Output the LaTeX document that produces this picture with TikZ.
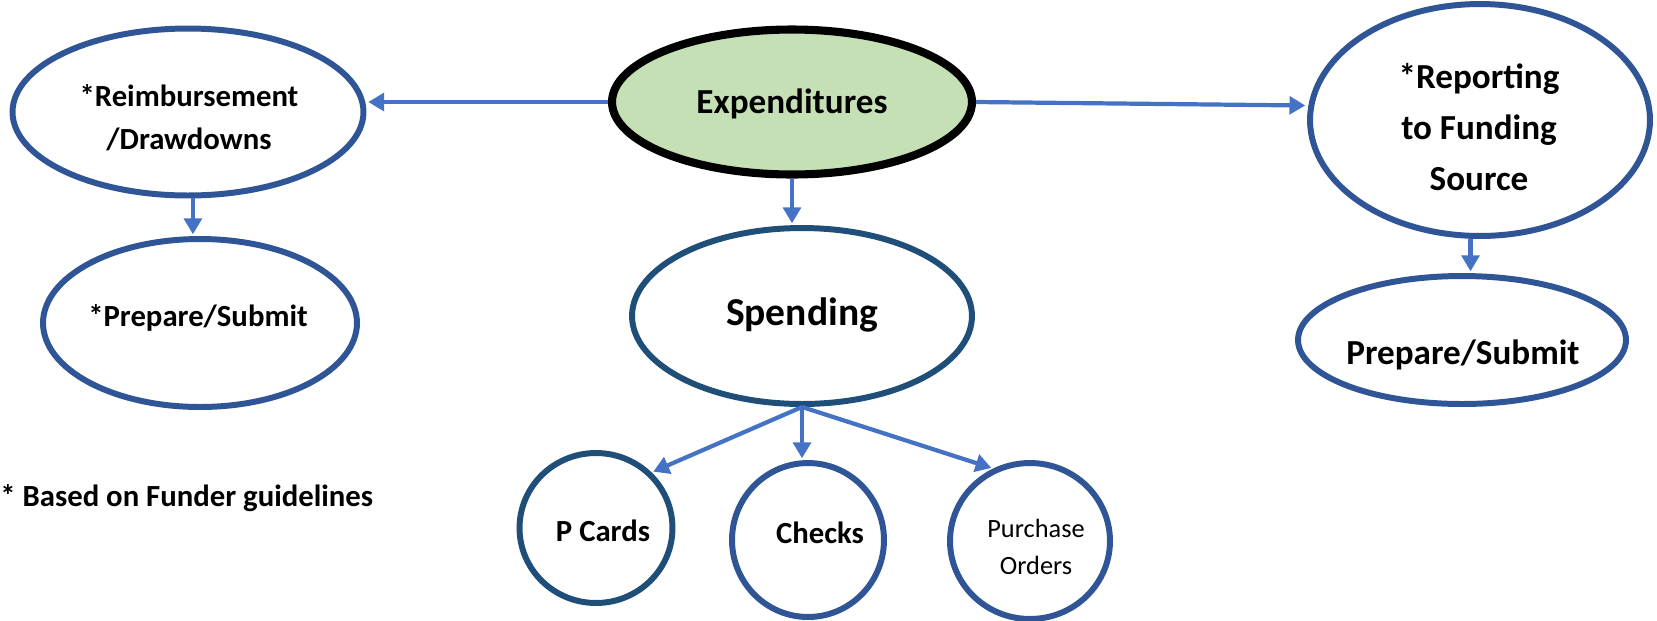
\documentclass[tikz,border=0pt]{standalone}
\usepackage{fontspec}
\setmainfont{Carlito}
\usetikzlibrary{arrows.meta,shapes.geometric}
\definecolor{bord}{RGB}{47,85,151}
\definecolor{bordd}{RGB}{31,78,121}
\definecolor{arrc}{RGB}{68,114,196}
\definecolor{expfill}{RGB}{197,224,180}
\tikzset{
  bub/.style={ellipse, draw=bord, line width=3.4pt, inner sep=0pt, fill=white},
  bubd/.style={bub, draw=bordd},
  expbub/.style={ellipse, draw=black, line width=4.6pt, inner sep=0pt, fill=expfill},
  txt/.style={font=\bfseries\fontsize{17.5}{24.5}\selectfont, align=center, inner sep=0pt},
  arr/.style={draw=arrc, line width=2.4pt, -{Triangle[length=9pt,width=10pt]}, shorten >=1pt}
}
\begin{document}
\begin{tikzpicture}[x=0.02cm, y=-0.02cm]
\useasboundingbox (0,0) rectangle (1657,620);
% ellipses
\node[bub, minimum width=7.02cm, minimum height=3.34cm] (reimb) at (188,112) {};
\node[bub, minimum width=6.28cm, minimum height=3.36cm] (prepL) at (200,323) {};
\node[expbub, minimum width=7.2cm, minimum height=2.9cm] (exp) at (792,102) {};
\node[bubd, minimum width=6.8cm, minimum height=3.52cm] (spend) at (802,316) {};
\node[bub, minimum width=6.8cm, minimum height=4.64cm] (rep) at (1480,120) {};
\node[bub, minimum width=6.56cm, minimum height=2.56cm] (prepR) at (1462,340) {};
\node[bubd, minimum width=3.06cm, minimum height=3.0cm] (pcards) at (596,528) {};
\node[bub, minimum width=3.04cm, minimum height=3.08cm] (checks) at (808,540) {};
\node[bub, minimum width=3.2cm, minimum height=3.12cm] (po) at (1030,541) {};
% texts
\node[txt] (treimb) at (189,118) {*Reimbursement\\/Drawdowns};
\node[txt] (tprepL) at (198,318) {*Prepare/Submit};
\node[txt, font=\bfseries\fontsize{20}{24}\selectfont] (texp) at (792,104) {Expenditures};
\node[txt, font=\bfseries\fontsize{22.5}{26}\selectfont] (tspend) at (802,315) {Spending};
\node[txt, font=\bfseries\fontsize{20}{28.8}\selectfont] (trep) at (1479,127) {*Reporting\\to Funding\\Source};
\node[txt, font=\bfseries\fontsize{20}{24}\selectfont] (tprepR) at (1463,355) {Prepare/Submit};
\node[txt] (tpcards) at (603,531) {P Cards};
\node[txt] (tchecks) at (820,533) {Checks};
\node[txt, font=\fontsize{15}{21}\selectfont] (tpo) at (1036,547) {Purchase\\Orders};
\node[txt, anchor=west] (foot) at (0,498) {* Based on Funder guidelines};
% connectors
\draw[arr] (exp.west) -- (exp.west -| reimb.east);
\draw[arr] (exp.east) -- ([yshift=-2pt]exp.east -| rep.west);
\draw[arr] (exp.south) -- (exp.south |- spend.north);
\draw[arr] ([xshift=2.8pt]reimb.south) -- ([xshift=2.8pt]reimb.south |- prepL.north);
\draw[arr] ([xshift=-5.4pt]rep.south) -- ([xshift=-5.4pt]rep.south |- prepR.north);
\draw[arr] (spend.south) -- (pcards.45);
\draw[arr] (spend.south) -- (spend.south |- checks.north);
\draw[arr] (spend.south) -- (po.117);
\end{tikzpicture}
\end{document}
